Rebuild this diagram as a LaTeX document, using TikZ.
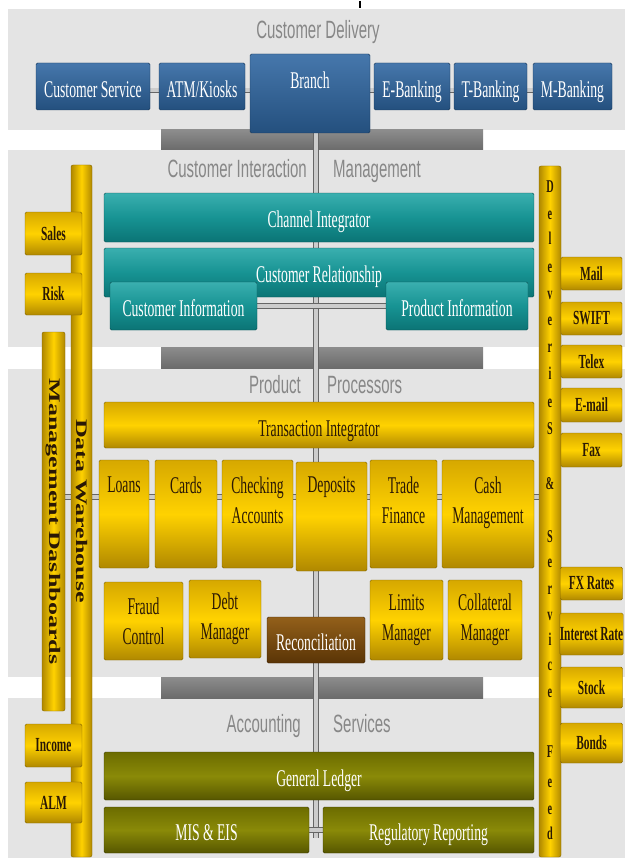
\documentclass[tikz,border=0pt]{standalone}
\usepackage{fontspec}
\usepackage{tikz}
\newfontfamily\boxfont[FakeStretch=0.57]{Liberation Serif}
\newfontfamily\bandfont[FakeStretch=0.6]{Liberation Sans}
\newfontfamily\barfont{Liberation Serif}
\definecolor{bandgray}{HTML}{E4E4E4}
\definecolor{titlegray}{HTML}{878787}
\definecolor{blueA}{HTML}{4677AC}
\definecolor{blueB}{HTML}{24507E}
\definecolor{tealA}{HTML}{3AAFAF}
\definecolor{tealM}{HTML}{179393}
\definecolor{tealB}{HTML}{0B7475}
\definecolor{goldA}{HTML}{D6A800}
\definecolor{goldM}{HTML}{FFD200}
\definecolor{goldB}{HTML}{B08800}
\definecolor{brownA}{HTML}{93601A}
\definecolor{brownB}{HTML}{5A3406}
\definecolor{oliveA}{HTML}{6C6C00}
\definecolor{oliveM}{HTML}{8A8A08}
\definecolor{oliveB}{HTML}{565600}
\definecolor{inkbrown}{HTML}{2A1805}
\pgfdeclarelayer{bands}
\pgfdeclarelayer{pipes}
\pgfsetlayers{bands,pipes,main}

\begin{document}
\begin{tikzpicture}[
  panel/.style={rounded corners=1.5pt, inner sep=0pt, align=center, line width=0.4pt,
    font=\boxfont\fontsize{24}{30}\selectfont},
  oneline/.style={text height=#1, text depth=0pt},
  bluebox/.style={panel, draw=blueB!70!black, top color=blueA, bottom color=blueB, text=white, oneline=23pt},
  tealbox/.style={panel, draw=tealB!70!black, top color=tealA, bottom color=tealB, middle color=tealM, text=white, oneline=20pt},
  goldbox/.style={panel, draw=goldB!75!black, top color=goldA, bottom color=goldB, middle color=goldM, text=inkbrown},
  brownbox/.style={panel, draw=brownB!70!black, top color=brownA, bottom color=brownB, text=white, oneline=20pt},
  olivebox/.style={panel, draw=oliveB!70!black, top color=oliveA, bottom color=oliveB, middle color=oliveM, text=white, oneline=20pt},
  sidebox/.style={goldbox, font=\boxfont\bfseries\fontsize{20}{24}\selectfont},
  goldbar/.style={rounded corners=2pt, inner sep=0pt, draw=goldB!75!black, left color=goldB, right color=goldB, middle color=goldM},
  toptext/.style={anchor=north, inner sep=0pt, yshift=-17pt, align=center, text=inkbrown,
    font=\boxfont\fontsize{24}{30}\selectfont},
  vlabel/.style={rotate=-90, inner sep=0pt, text=inkbrown, font=\barfont\bfseries\fontsize{26}{30}\selectfont},
  feedletter/.style={anchor=mid, inner sep=0pt, text=inkbrown, font=\boxfont\bfseries\fontsize{18}{20}\selectfont},
  bandtitle/.style={inner sep=0pt, text=titlegray, font=\bandfont\fontsize{25}{30}\selectfont},
  pipe/.style={draw=black!60, line width=0.9pt, double=gray!40, double distance=4pt}
]
\useasboundingbox (0pt,0pt) rectangle (625pt,-861pt);

\begin{pgfonlayer}{bands}
\fill[white] (0pt,0pt) rectangle (625pt,-861pt);
\fill[bandgray] (8pt,-9pt) rectangle (625pt,-130pt);
\fill[bandgray] (8pt,-150pt) rectangle (625pt,-347pt);
\fill[bandgray] (8pt,-369pt) rectangle (625pt,-677pt);
\fill[bandgray] (8pt,-698pt) rectangle (625pt,-858pt);
\shade[top color=black!45, bottom color=black!58] (161pt,-130pt) rectangle (483pt,-150pt);
\shade[top color=black!45, bottom color=black!58] (161pt,-347pt) rectangle (483pt,-368pt);
\shade[top color=black!45, bottom color=black!58] (161pt,-677pt) rectangle (483pt,-698pt);
\draw[black, line width=1.2pt] (360pt,-1pt) -- (360pt,-8pt);
\end{pgfonlayer}

\node[bandtitle, anchor=base] (deliv) at (318pt,-39pt) {Customer Delivery};
\node[bandtitle, anchor=base east] (interact) at (307pt,-178pt) {Customer Interaction};
\node[bandtitle, anchor=base west] (manage) at (333pt,-178pt) {Management};
\node[bandtitle, anchor=base east] (product) at (301pt,-393pt) {Product};
\node[bandtitle, anchor=base west] (process) at (327pt,-393pt) {Processors};
\node[bandtitle, anchor=base east] (account) at (301pt,-732pt) {Accounting};
\node[bandtitle, anchor=base west] (services) at (333pt,-732pt) {Services};

\node[bluebox, minimum width=114pt, minimum height=47pt] (custserv) at (93pt,-86.5pt) {Customer Service};
\node[bluebox, minimum width=86pt, minimum height=47pt] (atm) at (202pt,-86.5pt) {ATM/Kiosks};
\node[bluebox, minimum width=120pt, minimum height=79pt,
  label={[toptext, text=white, yshift=-1pt]north:Branch}] (branch) at (310pt,-93.5pt) {};
\node[bluebox, minimum width=76pt, minimum height=47pt] (ebank) at (412pt,-86.5pt) {E-Banking};
\node[bluebox, minimum width=73pt, minimum height=47pt] (tbank) at (490.5pt,-86.5pt) {T-Banking};
\node[bluebox, minimum width=79pt, minimum height=47pt] (mbank) at (572.5pt,-86.5pt) {M-Banking};

\node[tealbox, minimum width=430pt, minimum height=49pt] (chanint) at (319pt,-217.5pt) {Channel Integrator};
\node[tealbox, minimum width=430pt, minimum height=49pt] (custrel) at (319pt,-272.5pt) {Customer Relationship};
\node[tealbox, minimum width=147pt, minimum height=48pt] (custinfo) at (183.5pt,-306pt) {Customer Information};
\node[tealbox, minimum width=142pt, minimum height=48pt] (prodinfo) at (457pt,-306pt) {Product Information};

\node[goldbox, oneline=22pt, minimum width=430pt, minimum height=46pt] (transint) at (319pt,-425pt) {Transaction Integrator};
\node[goldbox, minimum width=50pt, minimum height=108pt, label={[toptext]north:Loans}] (loans) at (124pt,-514pt) {};
\node[goldbox, minimum width=62pt, minimum height=108pt, label={[toptext]north:Cards}] (cards) at (186pt,-514pt) {};
\node[goldbox, minimum width=71pt, minimum height=108pt, label={[toptext]north:{Checking\\Accounts}}] (checking) at (257.5pt,-514pt) {};
\node[goldbox, minimum width=71pt, minimum height=109pt, label={[toptext, yshift=2pt]north:Deposits}] (deposits) at (331.5pt,-516.5pt) {};
\node[goldbox, minimum width=67pt, minimum height=108pt, label={[toptext]north:{Trade\\Finance}}] (trade) at (403.5pt,-514pt) {};
\node[goldbox, minimum width=92pt, minimum height=108pt, label={[toptext]north:{Cash\\Management}}] (cash) at (488pt,-514pt) {};

\node[goldbox, minimum width=79pt, minimum height=78pt] (fraud) at (143.5pt,-621pt) {Fraud\\Control};
\node[goldbox, minimum width=72pt, minimum height=78pt] (debt) at (225pt,-619pt) {Debt\\Manager};
\node[brownbox, minimum width=98pt, minimum height=46pt] (recon) at (316pt,-640pt) {Reconciliation};
\node[goldbox, minimum width=73pt, minimum height=80pt] (limits) at (406.5pt,-620pt) {Limits\\Manager};
\node[goldbox, minimum width=74pt, minimum height=80pt] (collat) at (485pt,-620pt) {Collateral\\Manager};

\node[olivebox, minimum width=430pt, minimum height=48pt] (ledger) at (319pt,-776pt) {General Ledger};
\node[olivebox, minimum width=205pt, minimum height=46pt] (mis) at (206.5pt,-830pt) {MIS \& EIS};
\node[olivebox, minimum width=211pt, minimum height=46pt] (regrep) at (428.5pt,-830pt) {Regulatory Reporting};

\node[goldbar, minimum width=21pt, minimum height=692pt,
  label={[vlabel]center:{\scalebox{1}[0.62]{Data Warehouse}}}] (warehouse) at (81.5pt,-511pt) {};
\node[goldbar, minimum width=23pt, minimum height=379pt,
  label={[vlabel]center:{\scalebox{1}[0.62]{Management Dashboards}}}] (dashboards) at (53.5pt,-521.5pt) {};
\node[sidebox, minimum width=57pt, minimum height=43pt] (sales) at (53.5pt,-233.5pt) {Sales};
\node[sidebox, minimum width=57pt, minimum height=42pt] (risk) at (53.5pt,-294pt) {Risk};
\node[sidebox, minimum width=57pt, minimum height=43pt] (income) at (53.5pt,-745.5pt) {Income};
\node[sidebox, minimum width=57pt, minimum height=41pt] (alm) at (53.5pt,-802.5pt) {ALM};

\node[goldbar, minimum width=22pt, minimum height=691pt] (feedbar) at (550pt,-511.5pt) {};
\foreach \ch/\yy [count=\i] in {D/190,e/217,l/242,e/270,v/297,e/323,r/350,i/377,e/405,S/432,
  \&/487,S/540,e/565,r/592,v/618,i/643,c/668,e/695,F/755,e/785,e/812,d/837}
  \node[feedletter] (fd\i) at (550pt,-\yy pt) {\ch};
\node[sidebox, minimum width=61pt, minimum height=33pt] (mail) at (591.5pt,-273.5pt) {Mail};
\node[sidebox, minimum width=61pt, minimum height=33pt] (swift) at (591.5pt,-318.5pt) {SWIFT};
\node[sidebox, minimum width=61pt, minimum height=33pt] (telex) at (591.5pt,-361.5pt) {Telex};
\node[sidebox, minimum width=61pt, minimum height=34pt] (email) at (591.5pt,-405pt) {E-mail};
\node[sidebox, minimum width=61pt, minimum height=34pt] (fax) at (591.5pt,-450pt) {Fax};
\node[sidebox, minimum width=62pt, minimum height=33pt] (fxrates) at (591.5pt,-583.5pt) {FX Rates};
\node[sidebox, minimum width=62pt, minimum height=42pt] (interest) at (591.5pt,-634pt) {Interest Rate};
\node[sidebox, minimum width=62pt, minimum height=41pt] (stock) at (591.5pt,-687.5pt) {Stock};
\node[sidebox, minimum width=62pt, minimum height=40pt] (bonds) at (591.5pt,-743pt) {Bonds};

\coordinate (spinetop) at (316pt,-130pt);
\coordinate (spinebot) at (316pt,-838pt);
\coordinate (prodpipe) at (316pt,-497pt);
\begin{pgfonlayer}{pipes}
\draw[pipe] (spinetop) -- (spinebot);
\draw[pipe] ([yshift=-4pt]custserv.center) -- ([yshift=-4pt]mbank.center);
\draw[pipe] (custinfo) -- (prodinfo);
\draw[pipe] (dashboards |- prodpipe) -- (feedbar |- prodpipe);
\draw[pipe] (mis) -- (regrep);
\end{pgfonlayer}
\end{tikzpicture}
\end{document}
